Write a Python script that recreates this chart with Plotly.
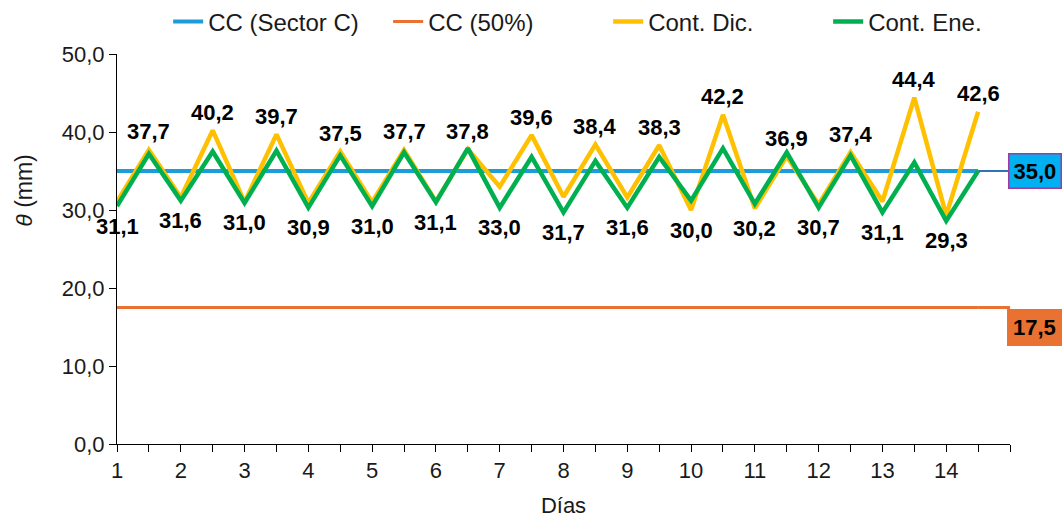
import plotly.graph_objects as go

# ---- data ----
x_days = [1, 1.5, 2, 2.5, 3, 3.5, 4, 4.5, 5, 5.5, 6, 6.5, 7, 7.5,
          8, 8.5, 9, 9.5, 10, 10.5, 11, 11.5, 12, 12.5, 13, 13.5, 14, 14.5]
cont_dic = [31.1, 37.7, 31.6, 40.2, 31.0, 39.7, 30.9, 37.5, 31.0, 37.7, 31.1, 37.8, 33.0, 39.6,
            31.7, 38.4, 31.6, 38.3, 30.0, 42.2, 30.2, 36.9, 30.7, 37.4, 31.1, 44.4, 29.3, 42.6]
cont_ene = [30.5, 37.2, 31.2, 37.5, 30.9, 37.6, 30.3, 37.0, 30.5, 37.4, 31.0, 37.9, 30.3, 36.8,
            29.7, 36.3, 30.3, 36.8, 31.2, 37.9, 30.8, 37.4, 30.3, 37.0, 29.7, 36.1, 28.6, 35.0]
cc_sector = [35.0] * len(x_days)
cc_50 = [17.5] * len(x_days)
x_end = 15
tick_vals = [1 + 0.5 * i for i in range(29)]
tick_text = [str(int(v)) if (v == int(v) and v < 15) else "" for v in tick_vals]
y_ticks = [0, 10, 20, 30, 40, 50]

FONT = "Liberation Sans, Arial, sans-serif"
BLUE = "#1C9DD9"
ORANGE = "#E97132"
YELLOW = "#FFC000"
GREEN = "#00B050"

fig = go.Figure()
fig.add_trace(go.Scatter(x=x_days, y=cc_sector, mode="lines", name="CC (Sector C)",
                         line=dict(color=BLUE, width=4)))
fig.add_trace(go.Scatter(x=x_days, y=cc_50, mode="lines", name="CC (50%)",
                         line=dict(color=ORANGE, width=3)))
fig.add_trace(go.Scatter(x=x_days, y=cont_dic, mode="lines", name="Cont. Dic.",
                         line=dict(color=YELLOW, width=4.5)))
fig.add_trace(go.Scatter(x=x_days, y=cont_ene, mode="lines", name="Cont. Ene.",
                         line=dict(color=GREEN, width=4.5)))
# leader lines to the end labels
fig.add_trace(go.Scatter(x=[x_days[-1], x_end], y=[cc_sector[-1], cc_sector[-1]], mode="lines",
                         line=dict(color="#2E75B6", width=2), showlegend=False, hoverinfo="skip"))
fig.add_trace(go.Scatter(x=[x_days[-1], x_end], y=[cc_50[-1], cc_50[-1]], mode="lines",
                         line=dict(color=ORANGE, width=3), showlegend=False, hoverinfo="skip"))

def fmt(v):
    return f"{v:.1f}".replace(".", ",")

annotations = []
for i, (xv, d, e) in enumerate(zip(x_days, cont_dic, cont_ene)):
    peak = (i % 2 == 1)
    if peak:
        yv, ys = d, 18
    else:
        yv, ys = min(d, e), -20
    annotations.append(dict(x=xv, y=yv, xref="x", yref="y", text=f"<b>{fmt(d)}</b>",
                            showarrow=False, yshift=ys, xanchor="center", yanchor="middle",
                            font=dict(family=FONT, size=22, color="black")))

annotations.append(dict(x=x_end, y=cc_sector[-1], xref="x", yref="y", text=f"<b>{fmt(cc_sector[-1])}</b>",
                        showarrow=False, xanchor="left", yanchor="middle", xshift=-2,
                        bgcolor="#00B0F0", bordercolor="#9E3BA0", borderwidth=1.5, borderpad=4,
                        font=dict(family=FONT, size=22, color="black")))
annotations.append(dict(x=x_end, y=cc_50[-1], xref="x", yref="y", text=f"<b>{fmt(cc_50[-1])}</b>",
                        showarrow=False, xanchor="left", yanchor="middle", xshift=-3, yshift=-20,
                        bgcolor=ORANGE, bordercolor=ORANGE, borderwidth=1, borderpad=5,
                        font=dict(family=FONT, size=22, color="black")))
annotations.append(dict(x=-0.105, y=0.65, xref="paper", yref="paper",
                        text="<i>θ</i> (mm)", textangle=-90, showarrow=False,
                        xanchor="center", yanchor="middle",
                        font=dict(family=FONT, size=23, color="#1a1a1a")))

fig.update_layout(
    width=1063, height=518,
    margin=dict(l=117, r=53, t=54, b=74, autoexpand=False),
    paper_bgcolor="white", plot_bgcolor="white",
    separators=",.",
    font=dict(family=FONT, size=22, color="#1a1a1a"),
    legend=dict(orientation="h", x=0.55, xanchor="center", y=1.082, yanchor="middle",
                font=dict(family=FONT, size=24, color="#1a1a1a"), bgcolor="rgba(0,0,0,0)",
                traceorder="normal", entrywidth=175, entrywidthmode="pixels"),
    annotations=annotations,
    showlegend=True,
)
fig.update_xaxes(range=[1, 15], tickmode="array", tickvals=tick_vals, ticktext=tick_text,
                 ticks="outside", ticklen=7, tickcolor="#000", tickwidth=1, automargin=False,
                 showline=True, linecolor="#000", linewidth=1, showgrid=False, zeroline=False,
                 tickfont=dict(family=FONT, size=22, color="#1a1a1a"),
                 title=dict(text="Días", font=dict(family=FONT, size=22, color="#1a1a1a"), standoff=22))
fig.update_yaxes(range=[0, 50], tickmode="array", tickvals=y_ticks, tickformat=".1f",
                 ticks="outside", ticklen=7, tickcolor="#000", tickwidth=1, automargin=False,
                 showline=True, linecolor="#000", linewidth=1, showgrid=False, zeroline=False,
                 tickfont=dict(family=FONT, size=22, color="#1a1a1a"))

fig.write_html("out.html", config={"displayModeBar": False},
               post_script="document.body.style.margin='0';document.body.style.padding='0';"
                           "document.body.style.overflow='hidden';")
